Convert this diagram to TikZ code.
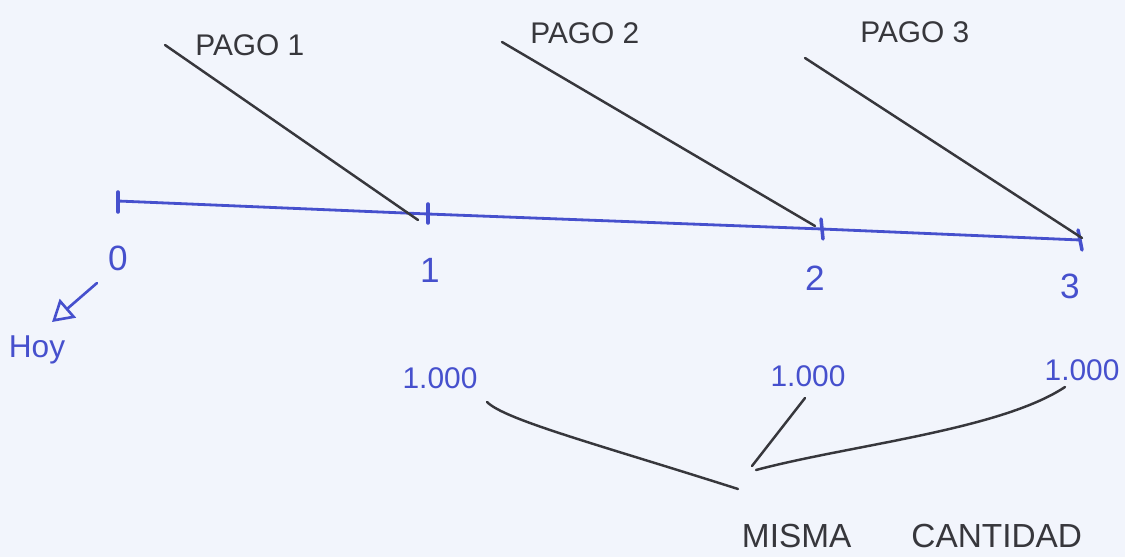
\documentclass[tikz,border=0pt]{standalone}
\usepackage{fontspec}
\setmainfont{Liberation Sans}
\usetikzlibrary{arrows.meta,calc}
\definecolor{paper}{RGB}{242,245,252}
\definecolor{pen}{RGB}{70,80,205}
\definecolor{ink}{RGB}{55,55,60}
\tikzset{
  axisline/.style={draw=pen, line width=1.6pt, line cap=round},
  tickline/.style={draw=pen, line width=2pt, line cap=round},
  inkline/.style={draw=ink, line width=1.4pt, line cap=round},
  bluelabel/.style={text=pen, font=\fontsize{20}{22}\selectfont, inner sep=0pt},
  amount/.style={text=pen, font=\fontsize{17}{19}\selectfont, inner sep=1pt},
  inklabel/.style={text=ink, font=\fontsize{17}{19}\selectfont, inner sep=0pt},
  biglabel/.style={text=ink, font=\fontsize{19}{21}\selectfont, inner sep=0pt}
}
\begin{document}
\begin{tikzpicture}[x=0.02cm, y=-0.02cm]
\fill[paper] (0,0) rectangle (1125,557);
\useasboundingbox (0,0) rectangle (1125,557);
% axis points
\coordinate (t0) at (118,201);
\coordinate (t1) at (428,214);
\coordinate (t2) at (822,229);
\coordinate (t3) at (1080,240);
\draw[axisline] (t0) -- (t1) -- (t2) -- (t3);
\draw[tickline] ($(t0)+(0,-9)$) -- ($(t0)+(0,11)$);
\draw[tickline] ($(t1)+(0,-10)$) -- ($(t1)+(0,9)$);
\draw[tickline] ($(t2)+(-1,-10)$) -- ($(t2)+(1,10)$);
\draw[tickline] ($(t3)+(-2,-10)$) -- ($(t3)+(2,10)$);
% axis labels
\node[bluelabel] (l0) at (118,258) {0};
\node[bluelabel] (l1) at (430,270) {1};
\node[bluelabel] (l2) at (815,278) {2};
\node[bluelabel] (l3) at (1070,286) {3};
% payments
\node[inklabel, anchor=west] (p1) at (195,45) {PAGO 1};
\node[inklabel, anchor=west] (p2) at (530,33) {PAGO 2};
\node[inklabel, anchor=west] (p3) at (860,32) {PAGO 3};
\coordinate (s1) at (165,45);
\coordinate (s2) at (502,42);
\coordinate (s3) at (805,58);
\coordinate (e1) at (418,220);
\coordinate (e2) at (815,226);
\coordinate (e3) at (1082,238);
\draw[inkline] (s1) -- (e1);
\draw[inkline] (s2) -- (e2);
\draw[inkline] (s3) -- (e3);
% today
\node[text=pen, font=\fontsize{18}{20}\selectfont, inner sep=0pt] (hoy) at (37,350) {Hoy};
\coordinate (h0) at (97,283);
\coordinate (h1) at (52,322);
\draw[draw=pen, line width=1.5pt, line cap=round, -{Triangle[open, length=12pt, width=14pt, line width=1.5pt]}] (h0) -- (h1);
% amounts
\node[amount] (a1) at (440,378) {1.000};
\node[amount] (a2) at (808,376) {1.000};
\node[amount] (a3) at (1082,370) {1.000};
% same amount
\node[biglabel] (m) at (912,536) {MISMA\hspace{1.8em}CANTIDAD};
\coordinate (j1) at (738,489);
\coordinate (j2) at (752,466);
\coordinate (j3) at (756,470);
\coordinate (c1) at (487,402);
\coordinate (c2) at (805,398);
\coordinate (c3) at (1065,387);
\draw[inkline] (c1) .. controls (505,420) and (600,445) .. (j1);
\draw[inkline] (c2) -- (j2);
\draw[inkline] (j3) .. controls (850,445) and (1000,430) .. (c3);
\end{tikzpicture}
\end{document}
